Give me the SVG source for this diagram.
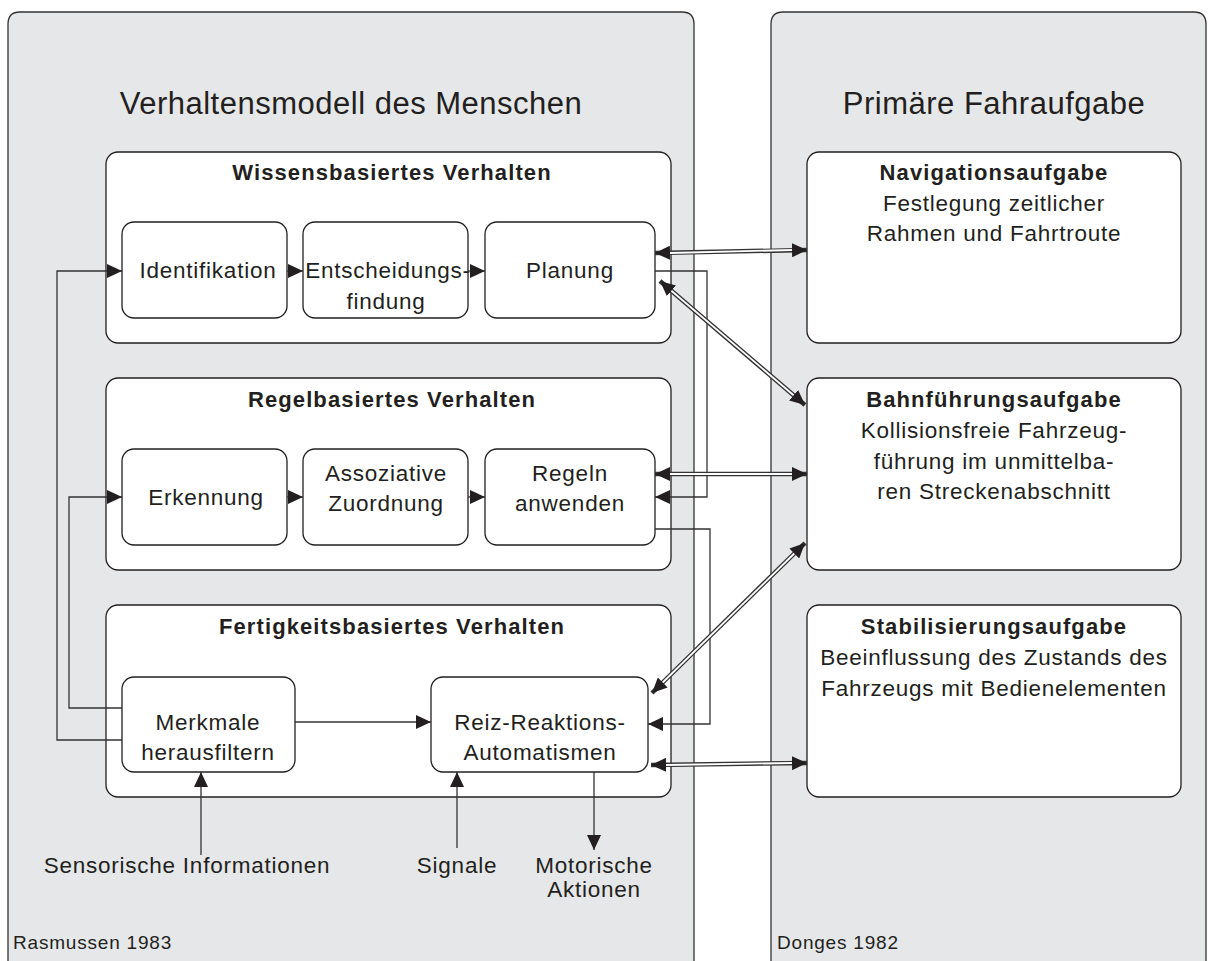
<svg xmlns="http://www.w3.org/2000/svg" width="1214" height="961" viewBox="0 0 1214 961">
<style>
.panel{fill:#e6e7e8;stroke:#333;stroke-width:1.3}
.box{fill:#fff;stroke:#231f20;stroke-width:1.3}
.t{font-family:"Liberation Sans",Arial,sans-serif;fill:#231f20;text-anchor:middle}
.big{font-size:31px;letter-spacing:0.5px}
.b{font-size:22px;font-weight:bold;letter-spacing:1.1px}
.n{font-size:22.5px;letter-spacing:0.75px}
.s{font-size:19px;letter-spacing:0.8px;text-anchor:start}
.ln{fill:none;stroke:#333;stroke-width:1.3}
.dbo{fill:none;stroke:#333;stroke-width:4.5}
.dbi{fill:none;stroke:#fff;stroke-width:1.8}
</style>
<defs>
<marker id="ah" markerUnits="userSpaceOnUse" markerWidth="15" markerHeight="14" viewBox="0 0 15 14" refX="15" refY="7" orient="auto-start-reverse">
<path d="M0,0 L15,7 L0,14 z" fill="#231f20"/>
</marker>
</defs>
<g id="panel-left">
<path class="panel" d="M8,975 L8,24 Q8,12 20,12 L682,12 Q694,12 694,24 L694,975"/>
<text class="t big" x="351" y="114">Verhaltensmodell des Menschen</text>
<text class="t s" x="13" y="949">Rasmussen 1983</text>
</g>
<g id="panel-right">
<path class="panel" d="M771,975 L771,24 Q771,12 783,12 L1194,12 Q1206,12 1206,24 L1206,975"/>
<text class="t big" x="994" y="114">Primäre Fahraufgabe</text>
<text class="t s" x="777" y="949">Donges 1982</text>
</g>
<g id="wissen">
<rect class="box" x="106" y="152" width="565" height="191" rx="12"/>
<text class="t b" x="392" y="180">Wissensbasiertes Verhalten</text>
</g>
<g id="identifikation">
<rect class="box" x="122" y="222" width="165" height="96" rx="12"/>
<text class="t n" x="208" y="278">Identifikation</text>
</g>
<g id="entscheidung">
<rect class="box" x="303" y="222" width="165" height="96" rx="12"/>
<text class="t n" x="388" y="278">Entscheidungs-</text>
<text class="t n" x="386" y="309">findung</text>
</g>
<g id="planung">
<rect class="box" x="485" y="222" width="170" height="96" rx="12"/>
<text class="t n" x="570" y="278">Planung</text>
</g>
<g id="regel">
<rect class="box" x="106" y="378" width="565" height="192" rx="12"/>
<text class="t b" x="392" y="407">Regelbasiertes Verhalten</text>
</g>
<g id="erkennung">
<rect class="box" x="122" y="449" width="165" height="96" rx="12"/>
<text class="t n" x="206" y="505">Erkennung</text>
</g>
<g id="assoziative">
<rect class="box" x="303" y="449" width="165" height="96" rx="12"/>
<text class="t n" x="386" y="481">Assoziative</text>
<text class="t n" x="386" y="511">Zuordnung</text>
</g>
<g id="regeln">
<rect class="box" x="485" y="449" width="170" height="96" rx="12"/>
<text class="t n" x="570" y="481">Regeln</text>
<text class="t n" x="570" y="511">anwenden</text>
</g>
<g id="fertigkeit">
<rect class="box" x="106" y="605" width="565" height="192" rx="12"/>
<text class="t b" x="392" y="634">Fertigkeitsbasiertes Verhalten</text>
</g>
<g id="merkmale">
<rect class="box" x="122" y="677" width="173" height="95" rx="12"/>
<text class="t n" x="208" y="730">Merkmale</text>
<text class="t n" x="208" y="760">herausfiltern</text>
</g>
<g id="reiz">
<rect class="box" x="431" y="677" width="217" height="95" rx="12"/>
<text class="t n" x="540" y="730">Reiz-Reaktions-</text>
<text class="t n" x="540" y="760">Automatismen</text>
</g>
<g id="navigation">
<rect class="box" x="807" y="152" width="374" height="191" rx="12"/>
<text class="t b" x="994" y="180">Navigationsaufgabe</text>
<text class="t n" x="994" y="211">Festlegung zeitlicher</text>
<text class="t n" x="994" y="241">Rahmen und Fahrtroute</text>
</g>
<g id="bahnfuehrung">
<rect class="box" x="807" y="378" width="374" height="192" rx="12"/>
<text class="t b" x="994" y="407">Bahnführungsaufgabe</text>
<text class="t n" x="994" y="438">Kollisionsfreie Fahrzeug-</text>
<text class="t n" x="994" y="469">führung im unmittelba-</text>
<text class="t n" x="994" y="499">ren Streckenabschnitt</text>
</g>
<g id="stabilisierung">
<rect class="box" x="807" y="605" width="374" height="192" rx="12"/>
<text class="t b" x="994" y="634">Stabilisierungsaufgabe</text>
<text class="t n" x="994" y="665">Beeinflussung des Zustands des</text>
<text class="t n" x="994" y="696">Fahrzeugs mit Bedienelementen</text>
</g>
<g id="labels">
<text class="t n" x="187" y="873">Sensorische Informationen</text>
<text class="t n" x="457" y="873">Signale</text>
<text class="t n" x="594" y="873">Motorische</text>
<text class="t n" x="594" y="897">Aktionen</text>
</g>
<g id="connectors">
<path class="ln" d="M122,740 L57,740 L57,271 L122,271" marker-end="url(#ah)"/>
<path class="ln" d="M122,708 L69,708 L69,497 L122,497" marker-end="url(#ah)"/>
<path class="ln" d="M287,271 L303,271" marker-end="url(#ah)"/>
<path class="ln" d="M468,271 L485,271" marker-end="url(#ah)"/>
<path class="ln" d="M287,497 L303,497" marker-end="url(#ah)"/>
<path class="ln" d="M468,497 L485,497" marker-end="url(#ah)"/>
<path class="ln" d="M295,722 L431,722" marker-end="url(#ah)"/>
<path class="ln" d="M655,271 L707,271 L707,497 L655,497" marker-end="url(#ah)"/>
<path class="ln" d="M655,529 L710,529 L710,724 L648,724" marker-end="url(#ah)"/>
<path class="ln" d="M201,855 L201,772" marker-end="url(#ah)"/>
<path class="ln" d="M457,848 L457,772" marker-end="url(#ah)"/>
<path class="ln" d="M594,772 L594,850" marker-end="url(#ah)"/>
<path class="dbo" d="M655,253 L807,250" marker-start="url(#ah)" marker-end="url(#ah)"/>
<path class="dbi" d="M670,253 L792,250"/>
<path class="dbo" d="M660,281 L805,405" marker-start="url(#ah)" marker-end="url(#ah)"/>
<path class="dbi" d="M671.4,290.8 L793.6,395.2"/>
<path class="dbo" d="M655,474 L807,474" marker-start="url(#ah)" marker-end="url(#ah)"/>
<path class="dbi" d="M670,474 L792,474"/>
<path class="dbo" d="M652,693 L805,543" marker-start="url(#ah)" marker-end="url(#ah)"/>
<path class="dbi" d="M662.7,682.5 L794.3,553.5"/>
<path class="dbo" d="M651,765 L807,763" marker-start="url(#ah)" marker-end="url(#ah)"/>
<path class="dbi" d="M666,765 L792,763"/>
</g>
</svg>
